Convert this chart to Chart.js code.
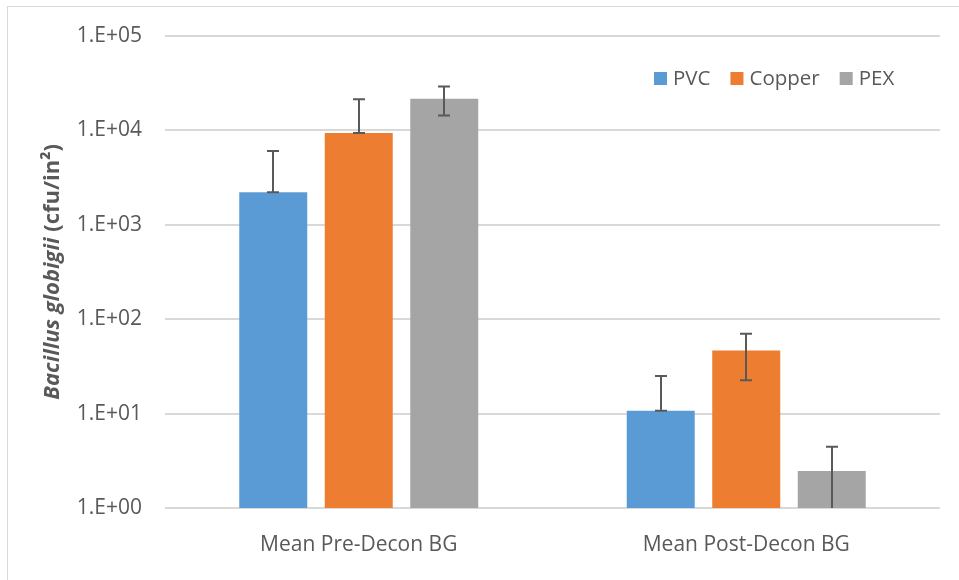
<!DOCTYPE html>
<html>
<head>
<meta charset="utf-8">
<script src="https://cdn.jsdelivr.net/npm/chart.js@4.4.1/dist/chart.umd.min.js"></script>
<style>
  html, body { margin: 0; padding: 0; background: #fff; }
  #wrap { position: relative; width: 959px; height: 580px; overflow: hidden; }
  #frame { position: absolute; left: 7px; top: 6px; width: 1000px; height: 700px; border: 1px solid #d9d9d9; box-sizing: border-box; }
  canvas { position: absolute; left: 0; top: 0; }
</style>
</head>
<body>
<div id="wrap">
  <div id="frame"></div>
  <canvas id="chart" width="959" height="580"></canvas>
</div>
<script>
const categories = ["Mean Pre-Decon BG", "Mean Post-Decon BG"];
const seriesNames = ["PVC", "Copper", "PEX"];
const seriesColors = ["#5b9bd5", "#ed7d31", "#a5a5a5"];

// bar heights (cfu/in²)
const pvc = [2200, 10.7];
const copper = [9300, 46.5];
const pex = [21400, 2.46];

// error bar ends (0 = runs off the axis)
const pvcHigh = [6000, 25];
const pvcLow = [2200, 10.7];
const copperHigh = [21200, 70];
const copperLow = [9300, 22.5];
const pexHigh = [28900, 4.45];
const pexLow = [14300, 0];

const yTicks = [1, 10, 100, 1000, 10000, 100000];

const font = "'Open Sans', 'Noto Sans', sans-serif";
const textColor = "#595959";

const fmtTick = (v) => {
  const e = Math.round(Math.log10(v));
  return "1.E+" + String(e).padStart(2, "0");
};

const errorBars = {
  id: "errorBars",
  afterDatasetsDraw(chart) {
    const { ctx, chartArea } = chart;
    const y = chart.scales.y;
    const highs = [pvcHigh, copperHigh, pexHigh];
    const lows = [pvcLow, copperLow, pexLow];
    ctx.save();
    ctx.strokeStyle = "#595959";
    ctx.lineWidth = 2;
    chart.data.datasets.forEach((ds, i) => {
      chart.getDatasetMeta(i).data.forEach((bar, j) => {
        const x = Math.round(bar.x);
        const top = y.getPixelForValue(highs[i][j]);
        const low = lows[i][j];
        const bottom = low > 0 ? y.getPixelForValue(low) : chartArea.bottom;
        ctx.beginPath();
        ctx.moveTo(x, top);
        ctx.lineTo(x, bottom);
        ctx.moveTo(x - 6, top);
        ctx.lineTo(x + 6, top);
        if (low > 0) {
          ctx.moveTo(x - 6, bottom);
          ctx.lineTo(x + 6, bottom);
        }
        ctx.stroke();
      });
    });
    ctx.restore();
  }
};

const extras = {
  id: "extras",
  afterDraw(chart) {
    const { ctx, chartArea } = chart;
    ctx.save();
    // y title, mixed styles
    const cy = (chartArea.top + chartArea.bottom) / 2;
    ctx.translate(53, cy);
    ctx.rotate(-Math.PI / 2);
    ctx.fillStyle = textColor;
    ctx.textBaseline = "middle";
    const f1 = "italic bold 22px " + font;
    const f2 = "bold 22px " + font;
    const t1 = "Bacillus globigii ";
    const t2 = "(cfu/in²)";
    ctx.font = f1;
    const w1 = ctx.measureText(t1).width;
    ctx.font = f2;
    const w2 = ctx.measureText(t2).width;
    let sx = -(w1 + w2) / 2;
    ctx.font = f1;
    ctx.fillText(t1, sx, 0);
    ctx.font = f2;
    ctx.fillText(t2, sx + w1, 0);
    ctx.restore();

    // legend inside the plot, top right
    ctx.save();
    ctx.font = "20.5px " + font;
    ctx.textBaseline = "middle";
    let x = 654;
    const ly = 79;
    chart.data.datasets.forEach((ds) => {
      ctx.fillStyle = ds.backgroundColor;
      ctx.fillRect(x, ly - 7, 13, 13);
      ctx.fillStyle = textColor;
      ctx.fillText(ds.label, x + 19, ly);
      x += 19 + ctx.measureText(ds.label).width + 20;
    });
    ctx.restore();
  }
};

const values = [pvc, copper, pex];

new Chart(document.getElementById("chart"), {
  type: "bar",
  data: {
    labels: categories,
    datasets: seriesNames.map((name, i) => ({
      label: name,
      data: values[i],
      backgroundColor: seriesColors[i],
      categoryPercentage: 0.662,
      barPercentage: 0.795,
    })),
  },
  options: {
    responsive: false,
    animation: false,
    layout: { padding: { top: 35, right: 19, left: 0, bottom: 0 } },
    plugins: {
      legend: { display: false },
      tooltip: { enabled: false },
    },
    scales: {
      x: {
        grid: { display: false },
        border: { display: false },
        ticks: { color: textColor, font: { family: font, size: 21 }, padding: 16 },
        afterFit: (s) => { s.height = 72; },
      },
      y: {
        type: "logarithmic",
        min: 1,
        max: 100000,
        afterBuildTicks: (s) => { s.ticks = yTicks.map((v) => ({ value: v })); },
        ticks: {
          color: textColor,
          font: { family: font, size: 21 },
          padding: 23,
          callback: (v) => fmtTick(v),
        },
        grid: { color: "#d9d9d9", lineWidth: 2, drawTicks: false },
        border: { display: false },
        afterFit: (s) => { s.width = 165; },
      },
    },
  },
  plugins: [errorBars, extras],
});
</script>
</body>
</html>
